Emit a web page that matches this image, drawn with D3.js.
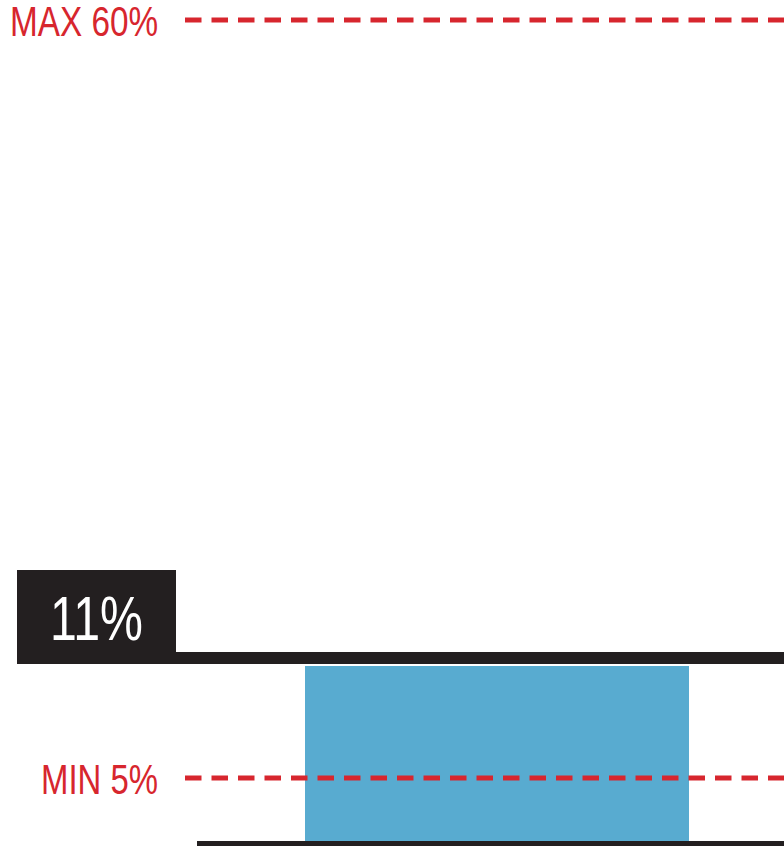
<!DOCTYPE html>
<html>
<head>
<meta charset="utf-8">
<script src="https://cdn.jsdelivr.net/npm/d3@7"></script>
<style>
  html, body { margin: 0; padding: 0; background: #fff; }
  svg { display: block; }
</style>
</head>
<body>
<svg id="chart" width="784" height="846"></svg>
<script>
// Allocation range and current value
const limitNames = ["MAX", "MIN"];
const limitValues = [60, 5];
const currentValue = 11;
const currentLabel = "11%";

// Axis break points: the scale is stretched in the low range
const axisStops = [0, 5, 11, 60];

const W = 784, H = 846;
const red = "#d7262e", blue = "#58abd0", ink = "#231f20";
const font = "'Liberation Sans', Arial, sans-serif";

const svg = d3.select("#chart");

const y = d3.scaleLinear().domain(axisStops).range([841, 778, 664, 20]);
const x = d3.scaleLinear().domain([0, 1]).range([305, 689]);

// Condense a text to a given width
function fit(sel, width) {
  sel.attr("textLength", width).attr("lengthAdjust", "spacingAndGlyphs");
}

// Baseline
svg.append("rect")
  .attr("x", 197).attr("y", y(0))
  .attr("width", W - 197).attr("height", 5)
  .attr("fill", ink);

// Current-value bar
svg.append("rect")
  .attr("x", x(0)).attr("y", y(currentValue) + 2)
  .attr("width", x(1) - x(0)).attr("height", y(0) - y(currentValue) - 2)
  .attr("fill", blue);

// Current-value rule and label box
svg.append("rect")
  .attr("x", 176).attr("y", y(currentValue) - 12)
  .attr("width", W - 176).attr("height", 12)
  .attr("fill", ink);
svg.append("rect")
  .attr("x", 17).attr("y", y(currentValue) - 94)
  .attr("width", 159).attr("height", 94)
  .attr("fill", ink);
svg.append("text")
  .attr("x", 50).attr("y", y(currentValue) - 24)
  .attr("font-family", font)
  .attr("font-size", 63)
  .attr("fill", "#fff")
  .text(currentLabel)
  .call(fit, 93);

// Limit lines
const limits = limitNames.map((n, i) => ({ name: n, value: limitValues[i] }));
const labelWidth = { MAX: 148, MIN: 117 };
const g = svg.selectAll("g.limit").data(limits).join("g").attr("class", "limit");
g.append("line")
  .attr("x1", 185).attr("x2", W)
  .attr("y1", d => y(d.value)).attr("y2", d => y(d.value))
  .attr("stroke", red).attr("stroke-width", 5)
  .attr("stroke-dasharray", "16.5 10");
g.append("text")
  .attr("x", d => 158 - labelWidth[d.name]).attr("y", d => y(d.value) + 16)
  .attr("font-family", font)
  .attr("font-size", 42)
  .attr("fill", red)
  .text(d => `${d.name} ${d.value}%`)
  .each(function (d) { d3.select(this).call(fit, labelWidth[d.name]); });
</script>
</body>
</html>
